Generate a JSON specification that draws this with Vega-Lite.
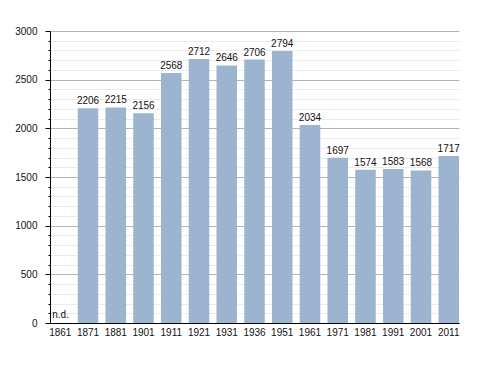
{
  "$schema": "https://vega.github.io/schema/vega-lite/v6.json",
  "width": 409,
  "height": 292,
  "autosize": {"type": "none"},
  "padding": {"left": 50, "top": 31, "right": 29, "bottom": 50},
  "background": "white",
  "config": {
    "view": {"stroke": null},
    "font": "Liberation Sans",
    "text": {"font": "Liberation Sans", "fontSize": 10, "color": "#111"},
    "axisY": {
      "title": null,
      "tickCount": 30,
      "labelExpr": "datum.value % 500 === 0 ? format(datum.value, 'd') : ''",
      "labelOverlap": false,
      "labelFont": "Liberation Sans",
      "labelFontSize": 10,
      "labelColor": "#111",
      "labelPadding": 8,
      "domainColor": "#000",
      "tickColor": "#000",
      "tickSize": {"condition": {"test": "datum.value % 500 === 0", "value": 5}, "value": 2},
      "grid": true,
      "gridColor": {"condition": {"test": "datum.value % 500 === 0", "value": "#b4b4b4"}, "value": "#ebebeb"},
      "gridWidth": 1
    }
  },
  "data": {
    "values": [
      {"year": "1861", "pop": null, "label": "n.d."},
      {"year": "1871", "pop": 2206, "label": "2206"},
      {"year": "1881", "pop": 2215, "label": "2215"},
      {"year": "1901", "pop": 2156, "label": "2156"},
      {"year": "1911", "pop": 2568, "label": "2568"},
      {"year": "1921", "pop": 2712, "label": "2712"},
      {"year": "1931", "pop": 2646, "label": "2646"},
      {"year": "1936", "pop": 2706, "label": "2706"},
      {"year": "1951", "pop": 2794, "label": "2794"},
      {"year": "1961", "pop": 2034, "label": "2034"},
      {"year": "1971", "pop": 1697, "label": "1697"},
      {"year": "1981", "pop": 1574, "label": "1574"},
      {"year": "1991", "pop": 1583, "label": "1583"},
      {"year": "2001", "pop": 1568, "label": "1568"},
      {"year": "2011", "pop": 1717, "label": "1717"}
    ]
  },
  "encoding": {
    "x": {
      "field": "year",
      "type": "ordinal",
      "sort": ["1861","1871","1881","1901","1911","1921","1931","1936","1951","1961","1971","1981","1991","2001","2011"],
      "scale": {"paddingInner": 0.26, "paddingOuter": 0},
      "axis": {
        "title": null,
        "labelAngle": 0,
        "ticks": false,
        "labelPadding": 4,
        "labelFont": "Liberation Sans",
        "labelFontSize": 10,
        "labelColor": "#111",
        "labelOverlap": false,
        "domainColor": "#000",
        "domainWidth": 1,
        "grid": false
      }
    }
  },
  "layer": [
    {
      "mark": {"type": "bar", "color": "#9cb4d0"},
      "encoding": {
        "y": {"field": "pop", "type": "quantitative", "scale": {"domain": [0, 3000], "nice": false}}
      }
    },
    {
      "transform": [{"filter": "datum.pop != null"}],
      "mark": {"type": "text", "baseline": "alphabetic", "dy": -4},
      "encoding": {
        "y": {"field": "pop", "type": "quantitative"},
        "text": {"field": "label"}
      }
    },
    {
      "transform": [{"filter": "datum.pop == null"}],
      "mark": {"type": "text", "baseline": "alphabetic", "align": "left", "dy": -5, "xOffset": -8},
      "encoding": {
        "y": {"datum": 0, "type": "quantitative"},
        "text": {"field": "label"}
      }
    }
  ]
}
